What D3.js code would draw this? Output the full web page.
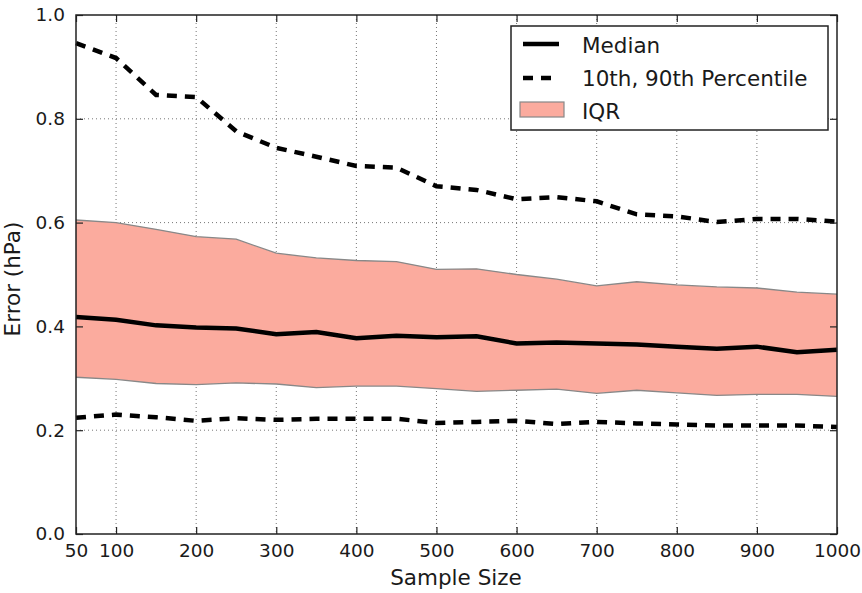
<!DOCTYPE html>
<html>
<head>
<meta charset="utf-8">
<script src="https://cdn.jsdelivr.net/npm/d3@7"></script>
<style>
  body { margin: 0; background: #fff; }
  text { font-family: "DejaVu Sans", sans-serif; fill: #1a1a1a; }
</style>
</head>
<body>
<div id="chart"></div>
<script>
// sample sizes along x
var sampleSize = [50, 100, 150, 200, 250, 300, 350, 400, 450, 500,
                  550, 600, 650, 700, 750, 800, 850, 900, 950, 1000];
var median = [0.418, 0.413, 0.402, 0.398, 0.396, 0.385, 0.389, 0.377, 0.382, 0.379,
              0.381, 0.367, 0.369, 0.367, 0.365, 0.361, 0.357, 0.361, 0.350, 0.355];
var p90 = [0.946, 0.917, 0.846, 0.842, 0.776, 0.744, 0.727, 0.709, 0.706, 0.670,
           0.663, 0.645, 0.649, 0.641, 0.616, 0.612, 0.601, 0.607, 0.607, 0.602];
var p10 = [0.224, 0.230, 0.225, 0.218, 0.223, 0.220, 0.222, 0.222, 0.222, 0.214,
           0.216, 0.218, 0.212, 0.216, 0.213, 0.211, 0.209, 0.209, 0.209, 0.206];
var q75 = [0.605, 0.600, 0.587, 0.573, 0.568, 0.541, 0.532, 0.527, 0.525, 0.510,
           0.511, 0.500, 0.491, 0.478, 0.486, 0.480, 0.476, 0.474, 0.466, 0.462];
var q25 = [0.302, 0.298, 0.290, 0.288, 0.291, 0.289, 0.282, 0.285, 0.285, 0.280,
           0.275, 0.277, 0.279, 0.271, 0.277, 0.272, 0.267, 0.269, 0.269, 0.265];
var xTicks = [50, 100, 200, 300, 400, 500, 600, 700, 800, 900, 1000];
var yTicks = [0.0, 0.2, 0.4, 0.6, 0.8, 1.0];
var legendLabels = ["Median", "10th, 90th Percentile", "IQR"];

var W = 862, H = 593;
var margin = {left: 76, top: 15, right: 25, bottom: 59};
var w = W - margin.left - margin.right, h = H - margin.top - margin.bottom;

var svg = d3.select("#chart").append("svg").attr("width", W).attr("height", H);
var g = svg.append("g").attr("transform", "translate(" + margin.left + "," + margin.top + ")");

var x = d3.scaleLinear().domain([50, 1000]).range([0, w]);
var y = d3.scaleLinear().domain([0, 1]).range([h, 0]);

var rows = sampleSize.map(function(s, i){
  return {s: s, med: median[i], hi: p90[i], lo: p10[i], q1: q25[i], q3: q75[i]};
});

// grid
g.selectAll(".vgrid").data(xTicks.slice(1, -1)).enter().append("line")
  .attr("x1", function(d){ return x(d); }).attr("x2", function(d){ return x(d); })
  .attr("y1", 0).attr("y2", h)
  .attr("stroke", "#777").attr("stroke-width", 1).attr("stroke-dasharray", "1,3");
g.selectAll(".hgrid").data(yTicks.slice(1, -1)).enter().append("line")
  .attr("y1", function(d){ return y(d); }).attr("y2", function(d){ return y(d); })
  .attr("x1", 0).attr("x2", w)
  .attr("stroke", "#777").attr("stroke-width", 1).attr("stroke-dasharray", "1,3");

// IQR band
var area = d3.area().x(function(d){ return x(d.s); })
  .y0(function(d){ return y(d.q1); }).y1(function(d){ return y(d.q3); });
g.append("path").datum(rows).attr("d", area)
  .attr("fill", "#fbab9e").attr("stroke", "none");
["q1", "q3"].forEach(function(k){
  g.append("path").datum(rows)
    .attr("d", d3.line().x(function(d){ return x(d.s); }).y(function(d){ return y(d[k]); }))
    .attr("fill", "none").attr("stroke", "#888").attr("stroke-width", 1.3);
});

// percentile lines
["hi", "lo"].forEach(function(k){
  g.append("path").datum(rows)
    .attr("d", d3.line().x(function(d){ return x(d.s); }).y(function(d){ return y(d[k]); }))
    .attr("fill", "none").attr("stroke", "#000").attr("stroke-width", 4.5)
    .attr("stroke-dasharray", "10,8");
});

// median
g.append("path").datum(rows)
  .attr("d", d3.line().x(function(d){ return x(d.s); }).y(function(d){ return y(d.med); }))
  .attr("fill", "none").attr("stroke", "#000").attr("stroke-width", 4.5);

// axes (ticks inside, mirrored on top/right)
var xAxis = g.append("g").attr("transform", "translate(0," + h + ")")
  .call(d3.axisBottom(x).tickValues(xTicks).tickFormat(d3.format("d"))
    .tickSizeInner(-7).tickSizeOuter(0).tickPadding(10));
var yAxis = g.append("g")
  .call(d3.axisLeft(y).tickValues(yTicks).tickFormat(d3.format(".1f"))
    .tickSizeInner(-7).tickSizeOuter(0).tickPadding(11));
var xTop = g.append("g")
  .call(d3.axisTop(x).tickValues(xTicks).tickSizeInner(-7).tickSizeOuter(0).tickFormat(""));
var yRight = g.append("g").attr("transform", "translate(" + w + ",0)")
  .call(d3.axisRight(y).tickValues(yTicks).tickSizeInner(-7).tickSizeOuter(0).tickFormat(""));
[xAxis, yAxis, xTop, yRight].forEach(function(a){
  a.select(".domain").remove();
  a.selectAll("line").attr("stroke", "#222").attr("stroke-width", 1.2);
  a.selectAll("text").attr("font-size", 18.5).attr("font-family", "DejaVu Sans, sans-serif").attr("fill", "#1a1a1a");
});
g.append("rect").attr("width", w).attr("height", h)
  .attr("fill", "none").attr("stroke", "#222").attr("stroke-width", 1.5);

// axis labels
svg.append("text").attr("x", 456).attr("y", 585)
  .attr("text-anchor", "middle").attr("font-size", 21.5).text("Sample Size");
svg.append("text").attr("transform", "translate(20,279) rotate(-90)")
  .attr("text-anchor", "middle").attr("font-size", 21.5).text("Error (hPa)");

// legend
var leg = svg.append("g").attr("transform", "translate(511,26)");
leg.append("rect").attr("width", 317).attr("height", 104)
  .attr("fill", "#fff").attr("stroke", "#222").attr("stroke-width", 1.5);
leg.append("line").attr("x1", 12).attr("x2", 48).attr("y1", 18).attr("y2", 18)
  .attr("stroke", "#000").attr("stroke-width", 4.5);
leg.append("line").attr("x1", 12).attr("x2", 48).attr("y1", 52).attr("y2", 52)
  .attr("stroke", "#000").attr("stroke-width", 4.5).attr("stroke-dasharray", "10,8");
leg.append("rect").attr("x", 9).attr("y", 76).attr("width", 44).attr("height", 15)
  .attr("fill", "#fbab9e").attr("stroke", "#888").attr("stroke-width", 1.2);
leg.selectAll(".lt").data(legendLabels).enter().append("text")
  .attr("x", 71).attr("y", function(d, i){ return 27 + i * 33; })
  .attr("font-size", 21.5).text(function(d){ return d; });
</script>
</body>
</html>
